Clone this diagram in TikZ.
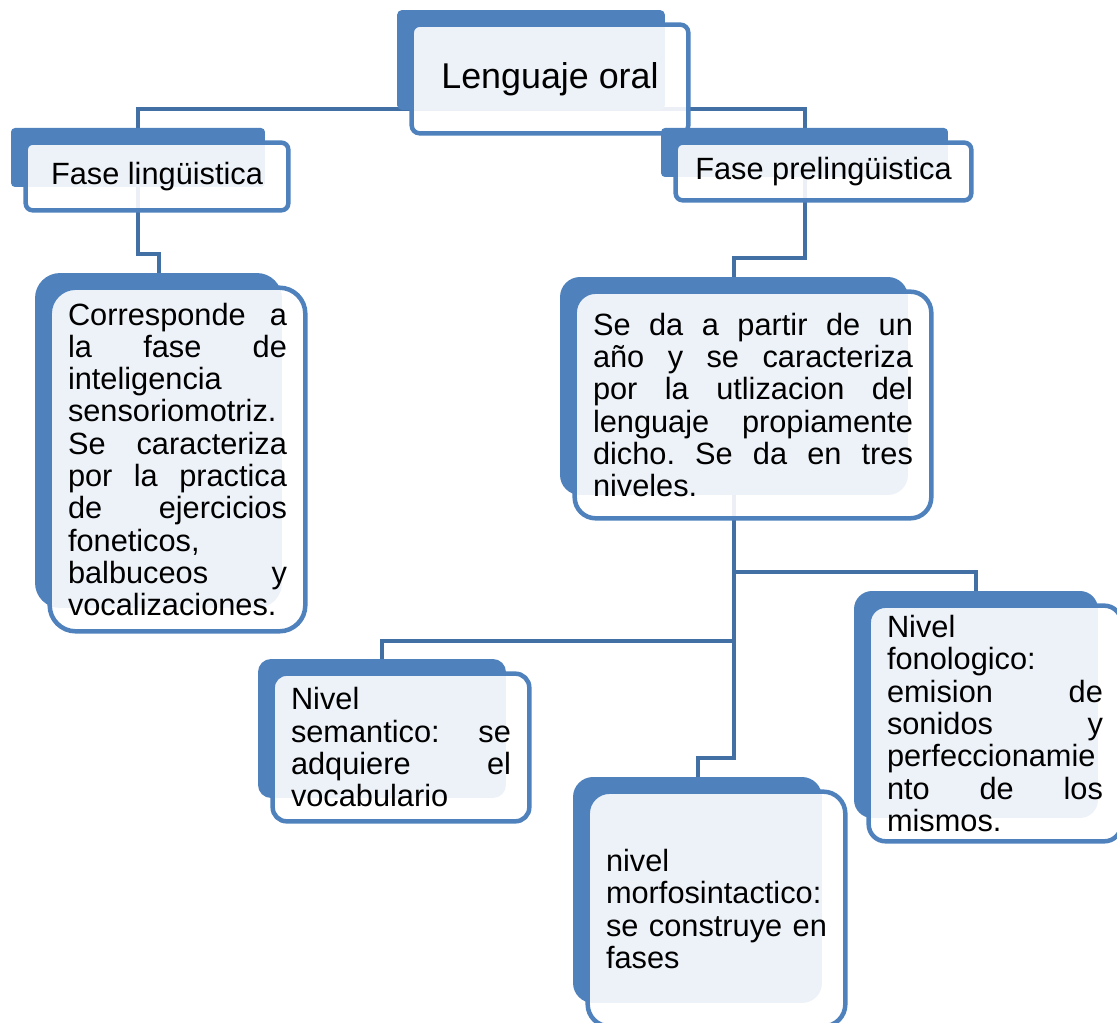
\documentclass[tikz,border=0pt]{standalone}
\usepackage{fontspec}
\setmainfont{Liberation Sans}
\usepackage{tikz}
\usetikzlibrary{calc}
\definecolor{tabblue}{RGB}{79,129,189}
\definecolor{linkblue}{RGB}{66,112,164}
\pgfdeclarelayer{background}
\pgfsetlayers{background,main}
\tolerance=10000
\hyphenpenalty=10000
\frenchspacing
\tikzset{
  tabbox/.style={rectangle, fill=tabblue, inner sep=0pt},
  frontbox/.style={draw=tabblue, line width=0.09cm, fill=white, fill opacity=0.9, draw opacity=1},
  headtext/.style={inner sep=0pt, font=\fontsize{17.5}{21}\selectfont},
  bodytext/.style={inner sep=0pt, align=justify, font=\fontsize{17.5}{18.4}\selectfont},
  link/.style={draw=linkblue, line width=0.08cm}
}

\begin{document}
\begin{tikzpicture}[x=0.02cm, y=-0.02cm]
  \useasboundingbox (0,0) rectangle (1117,1023);

  \node[tabbox, rounded corners=0.1cm, minimum width=5.36cm, minimum height=2cm] (oral) at (531,60) {};
  \draw[frontbox, rounded corners=0.16cm] ($(oral.north west)+(15,15)$) rectangle ($(oral.south east)+(23,23)$);
  \node[headtext, font=\fontsize{20.4}{24}\selectfont] (oraltext) at ($(oral.center)+(19,19)$) {Lenguaje oral};

  \node[tabbox, rounded corners=0.08cm, minimum width=5.08cm, minimum height=1.18cm] (ling) at (138,157.5) {};
  \draw[frontbox, rounded corners=0.14cm] ($(ling.north west)+(15,15)$) rectangle ($(ling.south east)+(23,23)$);
  \node[headtext] (lingtext) at ($(ling.center)+(19,19)$) {Fase lingüistica};

  \node[tabbox, rounded corners=0.08cm, minimum width=5.74cm, minimum height=0.98cm] (prel) at (804.5,152.5) {};
  \draw[frontbox, rounded corners=0.14cm] ($(prel.north west)+(15,15)$) rectangle ($(prel.south east)+(23,23)$);
  \node[headtext] (preltext) at ($(prel.center)+(19,19)$) {Fase prelingüistica};

  \node[tabbox, rounded corners=0.5cm, minimum width=4.94cm, minimum height=6.7cm] (sensor) at (158.5,440.5) {};
  \draw[frontbox, rounded corners=0.52cm] ($(sensor.north west)+(15,15)$) rectangle ($(sensor.south east)+(23,23)$);
  \node[bodytext, text width=4.38cm] (sensortext) at ($(sensor.center)+(19,19)$) {Corresponde a\linebreak la fase de\linebreak inteligencia\linebreak sensoriomotriz.\linebreak Se caracteriza\linebreak por la practica\linebreak de ejercicios\linebreak foneticos,\linebreak balbuceos y\linebreak vocalizaciones.};

  \node[tabbox, rounded corners=0.4cm, minimum width=6.96cm, minimum height=4.36cm] (anio) at (734,386) {};
  \draw[frontbox, rounded corners=0.42cm] ($(anio.north west)+(15,15)$) rectangle ($(anio.south east)+(23,23)$);
  \node[bodytext, text width=6.4cm] (aniotext) at ($(anio.center)+(19,19)$) {Se da a partir de un\linebreak año y se caracteriza\linebreak por la utlizacion del\linebreak lenguaje propiamente\linebreak dicho. Se da en tres\linebreak niveles.};

  \node[tabbox, rounded corners=0.26cm, minimum width=4.96cm, minimum height=2.78cm] (sem) at (382,728.5) {};
  \draw[frontbox, rounded corners=0.28cm] ($(sem.north west)+(15,15)$) rectangle ($(sem.south east)+(23,23)$);
  \node[bodytext, text width=4.4cm] (semtext) at ($(sem.center)+(19,19)$) {Nivel\linebreak semantico: se\linebreak adquiere el\linebreak vocabulario};

  \node[tabbox, rounded corners=0.4cm, minimum width=4.98cm, minimum height=4.52cm] (morf) at (697.5,890) {};
  \draw[frontbox, rounded corners=0.44cm] ($(morf.north west)+(15,15)$) rectangle ($(morf.south east)+(23,23)$);
  \node[bodytext, text width=4.42cm] (morftext) at ($(morf.center)+(19,19)$) {nivel\linebreak morfosintactico:\linebreak se construye en\linebreak fases};

  \node[tabbox, rounded corners=0.36cm, minimum width=4.88cm, minimum height=4.54cm] (fon) at (976,704.5) {};
  \draw[frontbox, rounded corners=0.34cm] ($(fon.north west)+(15,15)$) rectangle ($(fon.south east)+(23,23)$);
  \node[bodytext, text width=4.32cm] (fontext) at ($(fon.center)+(19,19)$) {Nivel\linebreak fonologico:\linebreak emision de\linebreak sonidos y\linebreak perfeccionamie\linebreak nto de los\linebreak mismos.};

  \begin{pgfonlayer}{background}
    \draw[link] (oral.south) |- ($(ling.north)+(0,-19)$) -- (ling.north);
    \draw[link] (oral.south) |- ($(prel.north)+(0,-19)$) -- (prel.north);
    \draw[link] (ling.south) |- ($(sensor.north)+(0,-19)$) -- (sensor.north);
    \draw[link] (prel.south) |- ($(anio.north)+(0,-19)$) -- (anio.north);
    \draw[link] (anio.south) |- ($(fon.north)+(0,-19)$) -- (fon.north);
    \draw[link] (anio.south) |- ($(sem.north)+(0,-18)$) -- (sem.north);
    \draw[link] (anio.south) |- ($(morf.north)+(0,-19)$) -- (morf.north);
  \end{pgfonlayer}
\end{tikzpicture}
\end{document}
